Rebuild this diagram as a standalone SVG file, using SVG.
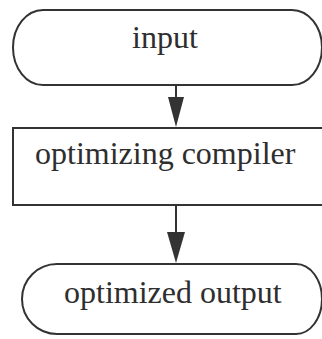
<svg xmlns="http://www.w3.org/2000/svg" width="322" height="339" viewBox="0 0 322 339">
  <style>
    .shape { fill: none; stroke: #333; stroke-width: 2; }
    .label { font-family: "Liberation Serif", "Times New Roman", serif; font-size: 32px; fill: #2e2e2e; }
    .edge { stroke: #333; stroke-width: 2; fill: none; }
    .head { fill: #333; stroke: none; }
  </style>
  <rect width="322" height="339" fill="#fff"/>

  <g id="input">
    <path class="shape" d="M43 10 H292 A30 37.5 0 0 1 292 85 H43 A30 37.5 0 0 1 43 10 Z"/>
    <text class="label" x="132" y="48">input</text>
  </g>

  <g id="optimizing-compiler">
    <rect class="shape" x="13" y="128" width="320" height="77"/>
    <text class="label" x="35" y="164">optimizing compiler</text>
  </g>

  <g id="optimized-output">
    <path class="shape" d="M57 264 H296 A26 35 0 0 1 296 334 H57 A35 35 0 0 1 57 264 Z"/>
    <text class="label" x="64" y="303">optimized output</text>
  </g>

  <g id="connectors">
    <line class="edge" x1="176" y1="85" x2="176" y2="100"/>
    <polygon class="head" points="168,97 184,97 176,127"/>
    <line class="edge" x1="176" y1="205" x2="176" y2="235"/>
    <polygon class="head" points="167,232 185,232 176,263"/>
  </g>
</svg>
